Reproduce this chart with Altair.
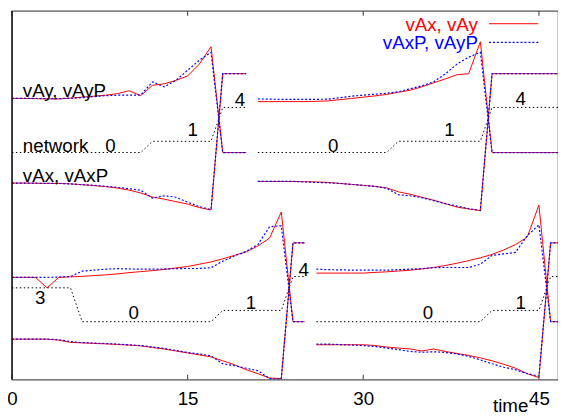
import altair as alt
import pandas as pd

# ---------------- data ----------------
# time starts of the four segments
T0_A, T0_B, T0_C, T0_D = 0, 21, 0, 26

# top-left segment (t = 0..20)
A_vAy  = [285.3, 285.2, 285, 284.8, 284.7, 285.5, 286.5, 287.5, 288.5, 290, 293, 288, 298.5, 300, 303.5, 308, 320, 337.7, 230.3, 230.3, 230.3]
A_vAyP = [285.3, 285.3, 285.2, 285, 285, 285.5, 286, 287, 288, 288.5, 288.5, 288.7, 302, 297, 303.5, 313.7, 324, 332, 230.3, 230.3, 230.3]
A_vAx  = [199.3, 199.3, 199.2, 199, 199, 198.5, 197.7, 196.8, 195.7, 194.3, 192.2, 189.3, 185.2, 183, 180.5, 178, 174.5, 172, 310.3, 310.3, 310.3]
A_vAxP = [199.3, 199.3, 199.2, 199, 199, 198.5, 197.7, 197, 196, 195, 193.5, 192, 184, 186.5, 185, 180, 175.5, 172.5, 310.3, 310.3, 310.3]
A_net  = [0] * 12 + [1] * 6 + [4] * 3

# top-right segment (t = 21..47)
B_vAy  = [282, 282, 282, 282, 282, 282.3, 282.7, 284, 285.2, 286.5, 287.8, 289.3, 291.5, 293.5, 297, 301, 305, 309.3, 310.3, 342.7] + [230.3] * 7
B_vAyP = [284.7, 284.5, 284.3, 284.3, 284.3, 284.3, 284.5, 286, 287.5, 288.5, 289.5, 290.5, 292, 295, 298, 302, 310, 320, 327, 332] + [230.3] * 7
B_vAx  = [201, 201, 201, 201, 200.7, 200.5, 200, 199, 198, 197, 196, 194.5, 190.5, 188, 185, 182, 178.5, 175, 173, 171.5] + [310.3] * 7
B_vAxP = [201, 201, 201, 201, 200.5, 200, 199.5, 199, 198, 197, 196, 194, 187.5, 186.5, 184.5, 181.5, 178.5, 176, 173.5, 171.5] + [310.3] * 7
B_net  = [0] * 12 + [1] * 8 + [4] * 7

# bottom-left segment (t = 0..25)
C_vAy  = [103.7, 103.7, 103.7, 93, 103.7, 104.2, 104.7, 105.5, 106.2, 107.2, 108.5, 109.5, 110.5, 111.7, 113.2, 114.7, 117, 119.3, 122.5, 126, 129.5, 135.5, 143.5, 170, 58.7, 58.7]
C_vAyP = [103.7, 103.7, 103.7, 103.7, 104, 104.5, 110, 111, 112, 112.5, 112.2, 112, 112, 112.2, 112.5, 112.7, 112.7, 113.5, 120, 125.3, 130, 137, 155, 156, 58.7, 58.7]
C_vAx  = [41, 41, 41, 41, 40, 37.7, 37.2, 36.7, 36.2, 35.6, 35, 34.2, 32.5, 31, 29, 27, 25, 23, 19, 15, 10, 6, 1.5, 1, 138.7, 138.7]
C_vAxP = [41, 41, 41, 41, 40.5, 38.5, 37.5, 37, 36.5, 36, 35.2, 34.5, 33, 31.5, 29.5, 27.5, 26, 24, 16, 14, 11.5, 9, 1, 0.5, 138.7, 138.7]
C_net  = [3] * 6 + [0] * 12 + [1] * 6 + [4] * 2

# bottom-right segment (t = 26..47)
D_vAy  = [108, 108, 108, 108, 108, 108.7, 109.3, 110.1, 111, 112.2, 113.7, 115.7, 118, 120.7, 123.5, 127, 131.5, 137, 144.5, 177, 58.7, 58.7]
D_vAyP = [112, 111.5, 111.3, 111, 111, 111, 111, 111.5, 112, 112.5, 113.5, 113.7, 113.7, 113.7, 117, 126, 127.5, 129, 146, 157, 58.7, 58.7]
D_vAx  = [35.3, 35.3, 35.3, 35.3, 35.3, 34.5, 33, 32, 31, 29, 31, 28.5, 26.5, 24.5, 22, 19, 15.5, 11.5, 6, 2, 138.7, 138.7]
D_vAxP = [36, 36, 35.5, 35, 34.5, 33.5, 32, 30.5, 28.5, 27.7, 28.2, 27.5, 26, 23.5, 20, 16, 12.5, 10, 6, 3.5, 138.7, 138.7]
D_net  = [0] * 15 + [1] * 5 + [4] * 2

NET_BASE_TOP, NET_BASE_BOTTOM, NET_STEP = 230.3, 58.7, 11.45

# annotation labels: text, time, height
word_labels = [("vAy, vAyP", 0.93, 287), ("network", 0.93, 231), ("vAx, vAxP", 0.93, 200)]
digit_labels = [("0", 8.42, 231), ("1", 15.43, 247), ("4", 19.47, 278),
                ("0", 27.44, 231.3), ("1", 37.36, 247), ("4", 43.45, 278.7),
                ("3", 2.41, 77), ("0", 10.4, 61), ("1", 20.4, 72), ("4", 24.92, 105.3),
                ("0", 35.52, 61), ("1", 43.45, 72)]

x_ticks = [0, 15, 30, 45]
X_MAX = 46.63
Y_MAX = 374

# ---------------- build tables ----------------
def rows(seg, t0, values, name):
    return [{"seg": seg + name, "t": t0 + i, "y": v} for i, v in enumerate(values)]

red, blue, black = [], [], []
segs = [("A", T0_A, A_vAy, A_vAyP, A_vAx, A_vAxP, A_net, NET_BASE_TOP),
        ("B", T0_B, B_vAy, B_vAyP, B_vAx, B_vAxP, B_net, NET_BASE_TOP),
        ("C", T0_C, C_vAy, C_vAyP, C_vAx, C_vAxP, C_net, NET_BASE_BOTTOM),
        ("D", T0_D, D_vAy, D_vAyP, D_vAx, D_vAxP, D_net, NET_BASE_BOTTOM)]
for s, t0, vy, vyp, vx, vxp, net, base in segs:
    red += rows(s, t0, vy, "vAy") + rows(s, t0, vx, "vAx")
    blue += rows(s, t0, vyp, "vAyP") + rows(s, t0, vxp, "vAxP")
    black += rows(s, t0, [base + NET_STEP * n for n in net], "net")

red_df, blue_df, black_df = pd.DataFrame(red), pd.DataFrame(blue), pd.DataFrame(black)
words_df = pd.DataFrame(word_labels, columns=["label", "t", "y"])
digits_df = pd.DataFrame(digit_labels, columns=["label", "t", "y"])
ticks_df = pd.DataFrame({"t": x_ticks})

FONT = "Liberation Sans"
FS = 19
BORDER = "#555555"
xs = alt.Scale(domain=[0, X_MAX], nice=False, zero=False)
ys = alt.Scale(domain=[0, Y_MAX], nice=False, zero=False)

main_x_axis = alt.Axis(values=x_ticks, ticks=False, tickSize=0, grid=False, domain=False,
                       labelFont=FONT, labelFontSize=FS,
                       labelColor="black", labelPadding=10, labelFlush=False,
                       title="time", titleFont=FONT, titleFontSize=FS, titleFontWeight="normal",
                       titleColor="black", titleX=505.5, titleY=32, titleAlign="center",
                       titleBaseline="alphabetic")

X = alt.X("t:Q", scale=xs, axis=main_x_axis)
Y = alt.Y("y:Q", scale=ys, axis=None)

black_layer = alt.Chart(black_df).mark_line(color="black", strokeWidth=1, strokeDash=[1.5, 2.5], clip=True).encode(
    x=X, y=Y, detail="seg:N")
red_layer = alt.Chart(red_df).mark_line(color="#ff0000", strokeWidth=1, clip=True).encode(
    x=X, y=Y, detail="seg:N")
blue_layer = alt.Chart(blue_df).mark_line(color="#0000ff", strokeWidth=1.2, strokeDash=[2, 2], clip=True).encode(
    x=X, y=Y, detail="seg:N")
words = alt.Chart(words_df).mark_text(align="left", baseline="alphabetic", font=FONT, fontSize=FS, color="black").encode(
    x=X, y=Y, text="label:N")
digits = alt.Chart(digits_df).mark_text(align="center", baseline="alphabetic", font=FONT, fontSize=FS, color="black").encode(
    x=X, y=Y, text="label:N")

# inward tick marks on bottom and top borders (gnuplot style)
bottom_ticks = alt.Chart(ticks_df).mark_rule(color=BORDER, strokeWidth=1.2).encode(
    x=X, y=alt.value(Y_MAX), y2=alt.value(Y_MAX - 5))
top_ticks = alt.Chart(ticks_df).mark_rule(color=BORDER, strokeWidth=1.2).encode(
    x=X, y=alt.value(0), y2=alt.value(5))

legend_df = pd.DataFrame({"label": ["vAx, vAy"]})
legend_df2 = pd.DataFrame({"label": ["vAxP, vAyP"]})
left_border = alt.Chart(legend_df).mark_rule(color="black", strokeWidth=1.2).encode(
    x=alt.value(0), y=alt.value(0), y2=alt.value(Y_MAX))
leg_t1 = alt.Chart(legend_df).mark_text(align="right", baseline="alphabetic", font=FONT, fontSize=FS, color="#ff0000").encode(
    x=alt.value(472.7), y=alt.value(20.3), text="label:N")
leg_t2 = alt.Chart(legend_df2).mark_text(align="right", baseline="alphabetic", font=FONT, fontSize=FS, color="#0000ff").encode(
    x=alt.value(472.7), y=alt.value(38.3), text="label:N")
leg_r1 = alt.Chart(legend_df).mark_rule(color="#ff0000", strokeWidth=1).encode(
    x=alt.value(484), x2=alt.value(534), y=alt.value(13))
leg_r2 = alt.Chart(legend_df2).mark_rule(color="#0000ff", strokeWidth=1.2, strokeDash=[2, 2]).encode(
    x=alt.value(484), x2=alt.value(534), y=alt.value(32))

chart = alt.layer(black_layer, red_layer, blue_layer, words, digits, bottom_ticks, top_ticks,
                  left_border, leg_t1, leg_t2, leg_r1, leg_r2).properties(
    width=554, height=Y_MAX,
    autosize=alt.AutoSizeParams(type="none"),
    padding={"left": 4, "top": 0, "right": 0, "bottom": 33},
    background="white",
).configure_view(stroke=BORDER, strokeWidth=1.2)

chart.save("out.html", embed_options={"renderer": "svg", "actions": False})
